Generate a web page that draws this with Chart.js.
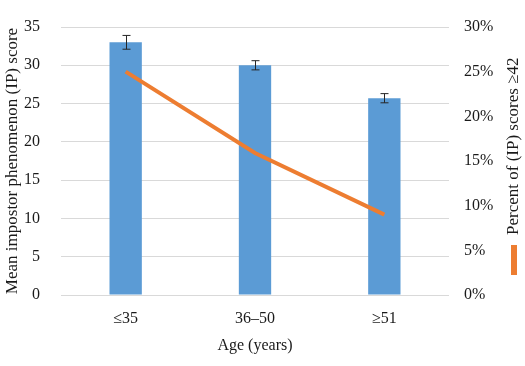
<!DOCTYPE html>
<html lang="en">
<head>
    <meta charset="UTF-8">
    <title>Impostor phenomenon by age</title>
    <script src="https://cdn.jsdelivr.net/npm/chart.js"></script>
    <style>
        html, body { margin: 0; padding: 0; background: #fff; }
        #wrap { width: 525px; height: 366px; }
    </style>
</head>
<body>
    <div id="wrap"><canvas id="ipChart" width="525" height="366"></canvas></div>
    <script>
        const ageGroups = ['≤35', '36–50', '≥51'];
        const meanScores = [33.0, 30.0, 25.7];
        const scoreErrors = [0.9, 0.6, 0.6];
        const percentHigh = [25.0, 15.9, 9.0];

        const FONT = '"Liberation Serif", "Times New Roman", serif';
        const INK = '#1a1a1a';

        // error bars on top of the blue bars
        const errorBars = {
            id: 'errorBars',
            afterDatasetsDraw(chart) {
                const ctx = chart.ctx;
                const meta = chart.getDatasetMeta(1);
                const y = chart.scales.y;
                ctx.save();
                ctx.strokeStyle = '#262626';
                ctx.lineWidth = 1;
                meta.data.forEach((bar, i) => {
                    const x = Math.round(bar.x) + 0.5;
                    const hi = y.getPixelForValue(meanScores[i] + scoreErrors[i]);
                    const lo = y.getPixelForValue(meanScores[i] - scoreErrors[i]);
                    ctx.beginPath();
                    ctx.moveTo(x, hi); ctx.lineTo(x, lo);
                    ctx.moveTo(x - 4, hi); ctx.lineTo(x + 4, hi);
                    ctx.moveTo(x - 4, lo); ctx.lineTo(x + 4, lo);
                    ctx.stroke();
                });
                ctx.restore();
            }
        };

        // rotated legend on the right side (marker + text)
        const sideLegend = {
            id: 'sideLegend',
            afterDraw(chart) {
                const ctx = chart.ctx;
                ctx.save();
                ctx.translate(514, 275);
                ctx.rotate(-Math.PI / 2);
                ctx.fillStyle = '#ED7D31';
                ctx.fillRect(0, -3, 30, 6);
                ctx.fillStyle = INK;
                ctx.font = '17px ' + FONT;
                ctx.textBaseline = 'middle';
                ctx.textAlign = 'left';
                ctx.fillText('Percent of (IP) scores ≥42', 40, 0);
                ctx.restore();
            }
        };

        const ctx = document.getElementById('ipChart').getContext('2d');
        new Chart(ctx, {
            data: {
                labels: ageGroups,
                datasets: [
                    {
                        type: 'line',
                        label: 'Percent of (IP) scores ≥42',
                        data: percentHigh,
                        yAxisID: 'y1',
                        borderColor: '#ED7D31',
                        borderWidth: 4,
                        pointRadius: 0,
                        tension: 0,
                        order: 0
                    },
                    {
                        type: 'bar',
                        label: 'Mean IP score',
                        data: meanScores,
                        yAxisID: 'y',
                        backgroundColor: '#5B9BD5',
                        barPercentage: 0.5,
                        categoryPercentage: 0.5,
                        order: 1
                    }
                ]
            },
            options: {
                responsive: false,
                animation: false,
                layout: { padding: { top: 27, bottom: 0, left: 0, right: 0 } },
                plugins: {
                    legend: { display: false },
                    tooltip: { enabled: false }
                },
                scales: {
                    x: {
                        grid: { display: false },
                        border: { display: false },
                        ticks: { color: INK, font: { family: FONT, size: 16 }, padding: 6 },
                        title: {
                            display: true, text: 'Age (years)', color: INK,
                            font: { family: FONT, size: 16 }, padding: { top: 0, bottom: 11 }
                        },
                        afterFit(scale) { scale.height = 71; }
                    },
                    y: {
                        position: 'left',
                        min: 0, max: 35,
                        ticks: { stepSize: 5, color: INK, font: { family: FONT, size: 16 }, padding: 21 },
                        grid: { color: '#d9d9d9', drawTicks: false },
                        border: { display: false },
                        title: {
                            display: true, text: 'Mean impostor phenomenon (IP) score', color: INK,
                            font: { family: FONT, size: 17 }, padding: { top: 2, bottom: 0 }
                        },
                        afterFit(scale) { scale.width = 61; scale.paddingTop = 0; }
                    },
                    y1: {
                        position: 'right',
                        min: 0, max: 30,
                        ticks: {
                            stepSize: 5, color: INK, font: { family: FONT, size: 16 }, padding: 15,
                            callback: v => v + '%'
                        },
                        grid: { display: false, drawTicks: false },
                        border: { display: false },
                        afterFit(scale) { scale.width = 76; scale.paddingTop = 0; }
                    }
                }
            },
            plugins: [errorBars, sideLegend]
        });
    </script>
</body>
</html>
